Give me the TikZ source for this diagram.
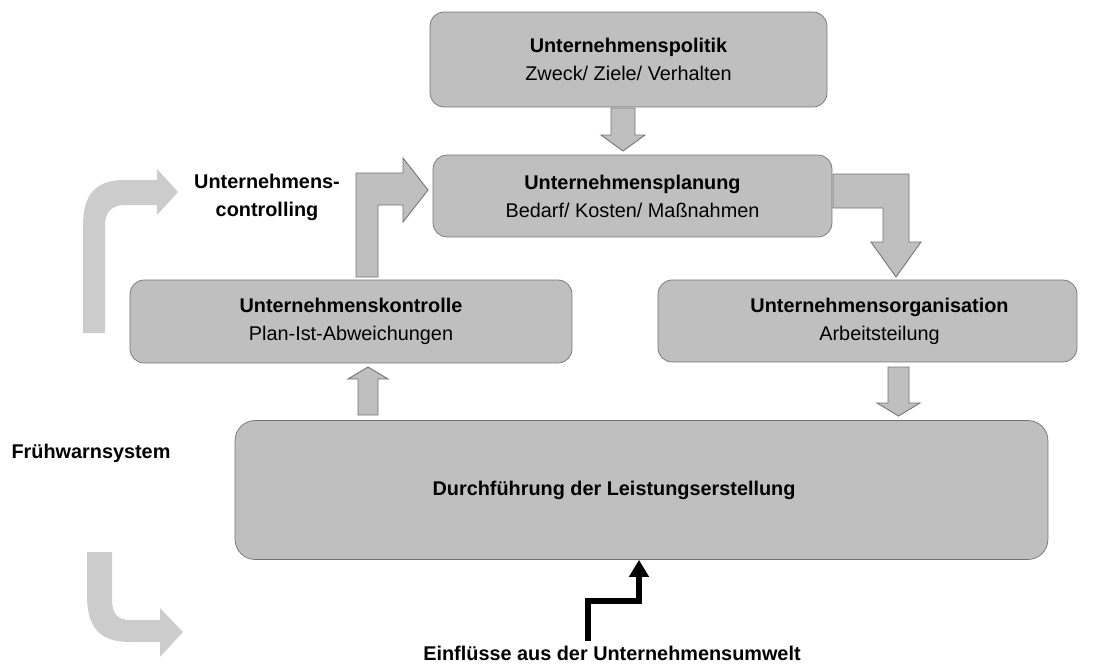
\documentclass[tikz,border=0pt]{standalone}
\usepackage{fontspec}
\setmainfont{Liberation Sans}
\usetikzlibrary{arrows.meta}
\begin{document}
\begin{tikzpicture}[x=0.02cm, y=-0.02cm,
    kasten/.style={draw=black!55, fill=black!25, rounded corners=0.28cm, align=center,
      inner sep=0pt, font=\fontsize{11.3}{16}\selectfont},
    blockpfeil/.style={draw=black!55, fill=black!25, line width=0.5pt},
    hellpfeil/.style={fill=black!20},
    beschriftung/.style={font=\fontsize{11.3}{16}\selectfont\bfseries, align=center},
    umwelt/.style={line width=2.9pt, -{Triangle[length=0.34cm, width=0.38cm]}}]
  \useasboundingbox (0,0) rectangle (1097,666);

  % Kästen
  \node[kasten, minimum width=7.94cm, minimum height=1.9cm] (politik) at (628.5,59.5)
    {\textbf{Unternehmenspolitik}\\Zweck/ Ziele/ Verhalten};
  \node[kasten, minimum width=7.98cm, minimum height=1.64cm] (planung) at (632.5,196)
    {\textbf{Unternehmensplanung}\\Bedarf/ Kosten/ Maßnahmen};
  \node[kasten, minimum width=8.84cm, minimum height=1.66cm] (kontrolle) at (351,321.5)
    {\textbf{Unternehmenskontrolle}\\Plan-Ist-Abweichungen};
  \node[kasten, minimum width=8.38cm, minimum height=1.64cm] (organisation) at (867.5,321)
    {\hspace*{0.48cm}\textbf{Unternehmensorganisation}\\\hspace*{0.48cm}Arbeitsteilung};
  \node[kasten, rounded corners=0.4cm, minimum width=16.26cm, minimum height=2.78cm] (durchf) at (641.5,490)
    {\textbf{Durchführung der Leistungserstellung}\hspace*{1.1cm}};

  % Beschriftungen
  \node[beschriftung] (controlling) at (267,197.5) {Unternehmens-\\controlling};
  \node[beschriftung] (fruehwarn) at (91,453) {Frühwarnsystem};
  \node[beschriftung] (einfl) at (612,653) {Einflüsse aus der Unternehmensumwelt};

  % Blockpfeile
  \filldraw[blockpfeil] (611,108) -- (635,108) -- (635,135) -- (645,135) -- (623,151)
    -- (601,135) -- (611,135) -- cycle;
  \filldraw[blockpfeil] (356,277) -- (356,173) -- (403,173) -- (403,158) -- (428,190)
    -- (403,222) -- (403,205) -- (378,205) -- (378,277) -- cycle;
  \filldraw[blockpfeil] (833,174) -- (909,174) -- (909,242) -- (921,242) -- (896,277)
    -- (871,242) -- (883,242) -- (883,208) -- (833,208) -- cycle;
  \filldraw[blockpfeil] (888,367) -- (909,367) -- (909,403) -- (920,403) -- (898.5,416)
    -- (877,403) -- (888,403) -- cycle;
  \filldraw[blockpfeil] (358,415) -- (358,379) -- (348,379) -- (368,367) -- (388,379)
    -- (378,379) -- (378,415) -- cycle;

  % Helle Pfeile links
  \fill[hellpfeil] (83,333) -- (83,225) .. controls (83,195) and (95,180) .. (125,180)
    -- (157,180) -- (157,169) -- (178,192) -- (157,215) -- (157,205) -- (125,205)
    .. controls (112,205) and (105,212) .. (105,225) -- (105,333) -- cycle;
  \fill[hellpfeil] (87,552) -- (87,595) .. controls (87,628) and (100,642) .. (130,642)
    -- (160,642) -- (160,657) -- (183,632) -- (160,608) -- (160,620) -- (130,620)
    .. controls (118,620) and (112,614) .. (112,600) -- (112,552) -- cycle;

  % Einflüsse
  \coordinate (ustart) at (588,641);
  \draw[umwelt] (ustart) |- (639,601) -- (639,0 |- durchf.south);
\end{tikzpicture}
\end{document}
